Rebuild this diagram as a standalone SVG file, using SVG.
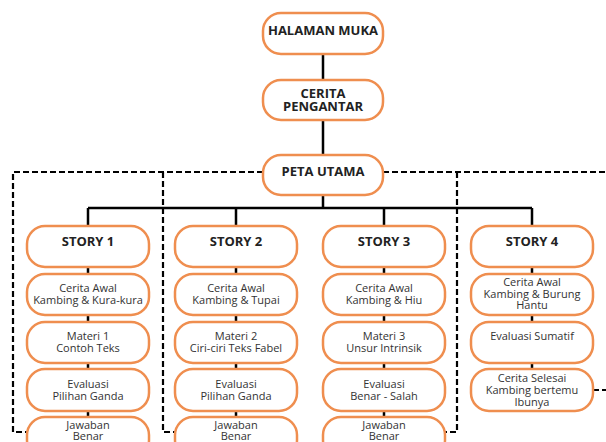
<svg xmlns="http://www.w3.org/2000/svg" width="606" height="442" viewBox="0 0 606 442">
<style>
.box{fill:#fff;stroke:#EF8E4F;stroke-width:2.5}
.t{font-family:"Open Sans","Noto Sans",sans-serif;font-weight:bold;font-size:13px;fill:#222;text-anchor:middle}
.b{font-family:"Open Sans","Noto Sans",sans-serif;font-size:11px;fill:#333;text-anchor:middle}
.ln{stroke:#000;stroke-width:2.5;fill:none}
.dl{stroke:#000;stroke-width:2.2;fill:none;stroke-dasharray:6 3}
</style>
<rect width="606" height="442" fill="#fff"/>
<g id="connectors">
<path class="ln" d="M323,54V80M323,120V155M323,195V208M88,208H532M88,208V226M236,208V226M384,208V226M532,208V226"/>
<path class="ln" d="M88,267V274M88,315V322M88,363V369M88,411V417"/>
<path class="ln" d="M236,267V274M236,315V322M236,363V369M236,411V417"/>
<path class="ln" d="M384,267V274M384,315V322M384,363V369M384,411V417"/>
<path class="ln" d="M532,267V274M532,315V322M532,363V369"/>
<path class="dl" d="M263,172H13V432H27M163,172V432H175M383,172H606M457,172V432H445M593,390H606"/>
</g>
<g id="halaman-muka"><rect class="box" x="263" y="13" width="120" height="41" rx="18"/><text class="t" x="323" y="35">HALAMAN MUKA</text></g>
<g id="cerita-pengantar"><rect class="box" x="263" y="80" width="120" height="40" rx="18"/><text class="t" x="323" y="97.5">CERITA</text><text class="t" x="323" y="111">PENGANTAR</text></g>
<g id="peta-utama"><rect class="box" x="263" y="155" width="120" height="40" rx="18"/><text class="t" x="323" y="176">PETA UTAMA</text></g>

<g id="story1"><rect class="box" x="27" y="226" width="122" height="41" rx="18"/><text class="t" x="88" y="246">STORY 1</text></g>
<g id="s1-cerita"><rect class="box" x="27" y="274" width="122" height="41" rx="18"/><text class="b" x="88" y="292">Cerita Awal</text><text class="b" x="88" y="303.5">Kambing &amp; Kura-kura</text></g>
<g id="s1-materi"><rect class="box" x="27" y="322" width="122" height="41" rx="18"/><text class="b" x="88" y="340">Materi 1</text><text class="b" x="88" y="352">Contoh Teks</text></g>
<g id="s1-evaluasi"><rect class="box" x="27" y="369" width="122" height="42" rx="18"/><text class="b" x="88" y="388">Evaluasi</text><text class="b" x="88" y="399.5">Pilihan Ganda</text></g>
<g id="s1-jawaban"><rect class="box" x="27" y="417" width="122" height="41" rx="18"/><text class="b" x="88" y="429">Jawaban</text><text class="b" x="88" y="440">Benar</text></g>

<g id="story2"><rect class="box" x="175" y="226" width="122" height="41" rx="18"/><text class="t" x="236" y="246">STORY 2</text></g>
<g id="s2-cerita"><rect class="box" x="175" y="274" width="122" height="41" rx="18"/><text class="b" x="236" y="292">Cerita Awal</text><text class="b" x="236" y="303.5">Kambing &amp; Tupai</text></g>
<g id="s2-materi"><rect class="box" x="175" y="322" width="122" height="41" rx="18"/><text class="b" x="236" y="340">Materi 2</text><text class="b" x="236" y="352">Ciri-ciri Teks Fabel</text></g>
<g id="s2-evaluasi"><rect class="box" x="175" y="369" width="122" height="42" rx="18"/><text class="b" x="236" y="388">Evaluasi</text><text class="b" x="236" y="399.5">Pilihan Ganda</text></g>
<g id="s2-jawaban"><rect class="box" x="175" y="417" width="122" height="41" rx="18"/><text class="b" x="236" y="429">Jawaban</text><text class="b" x="236" y="440">Benar</text></g>

<g id="story3"><rect class="box" x="323" y="226" width="122" height="41" rx="18"/><text class="t" x="384" y="246">STORY 3</text></g>
<g id="s3-cerita"><rect class="box" x="323" y="274" width="122" height="41" rx="18"/><text class="b" x="384" y="292">Cerita Awal</text><text class="b" x="384" y="303.5">Kambing &amp; Hiu</text></g>
<g id="s3-materi"><rect class="box" x="323" y="322" width="122" height="41" rx="18"/><text class="b" x="384" y="340">Materi 3</text><text class="b" x="384" y="352">Unsur Intrinsik</text></g>
<g id="s3-evaluasi"><rect class="box" x="323" y="369" width="122" height="42" rx="18"/><text class="b" x="384" y="388">Evaluasi</text><text class="b" x="384" y="399.5">Benar - Salah</text></g>
<g id="s3-jawaban"><rect class="box" x="323" y="417" width="122" height="41" rx="18"/><text class="b" x="384" y="429">Jawaban</text><text class="b" x="384" y="440">Benar</text></g>

<g id="story4"><rect class="box" x="471" y="226" width="122" height="41" rx="18"/><text class="t" x="532" y="246">STORY 4</text></g>
<g id="s4-cerita"><rect class="box" x="471" y="274" width="122" height="41" rx="18"/><text class="b" x="532" y="286">Cerita Awal</text><text class="b" x="532" y="297.5">Kambing &amp; Burung</text><text class="b" x="532" y="309">Hantu</text></g>
<g id="s4-evaluasi"><rect class="box" x="471" y="322" width="122" height="41" rx="18"/><text class="b" x="532" y="340">Evaluasi Sumatif</text></g>
<g id="s4-selesai"><rect class="box" x="471" y="369" width="122" height="42" rx="18"/><text class="b" x="532" y="382">Cerita Selesai</text><text class="b" x="532" y="394">Kambing bertemu</text><text class="b" x="532" y="406">Ibunya</text></g>
</svg>
